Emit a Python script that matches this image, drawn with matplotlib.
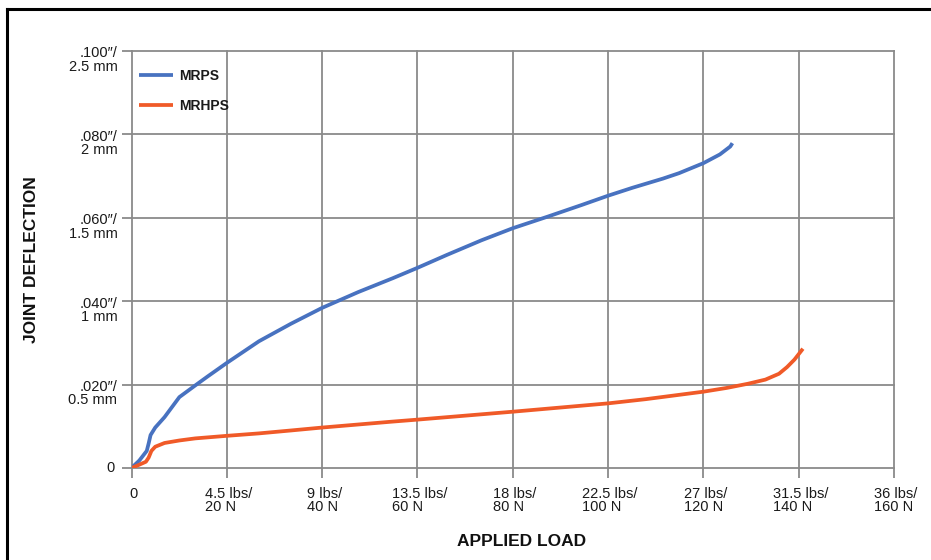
import matplotlib
matplotlib.use("Agg")
import matplotlib.pyplot as plt
from matplotlib.lines import Line2D

plt.rcParams['font.family'] = ['Liberation Sans', 'DejaVu Sans']

# Data
x_ticks = [0, 4.5, 9, 13.5, 18, 22.5, 27, 31.5, 36]
x_tick_labels = ["0", "4.5 lbs/\n20 N", "9 lbs/\n40 N", "13.5 lbs/\n60 N", "18 lbs/\n80 N",
                 "22.5 lbs/\n100 N", "27 lbs/\n120 N", "31.5 lbs/\n140 N", "36 lbs/\n160 N"]
y_ticks = [0, 0.02, 0.04, 0.06, 0.08, 0.10]
y_tick_labels = ["0", ".020\u2033/\n0.5 mm", ".040\u2033/\n1 mm", ".060\u2033/\n1.5 mm",
                 ".080\u2033/\n2 mm", ".100\u2033/\n2.5 mm"]

mrps_load = [0, 0.37, 0.72, 0.81, 0.90, 1.12, 1.56, 2.26, 3.01, 3.58, 4.5, 6.02, 7.53, 9.0,
             10.71, 12.33, 13.5, 14.89, 16.52, 18.0, 19.66, 21.27, 22.5, 23.65, 25.09,
             25.85, 27.0, 27.78, 28.27, 28.37]
mrps_defl = [0, 0.0018, 0.0041, 0.0059, 0.0079, 0.0097, 0.0122, 0.0170, 0.0198, 0.0219,
             0.0252, 0.0304, 0.0346, 0.0384, 0.0422, 0.0455, 0.0480, 0.0511, 0.0546,
             0.0575, 0.0603, 0.0631, 0.0653, 0.0672, 0.0694, 0.0707, 0.0731, 0.0752,
             0.0771, 0.0779]

mrhps_load = [0, 0.37, 0.68, 0.81, 0.94, 1.12, 1.56, 2.26, 3.01, 4.46, 6.02, 7.53, 9.0,
              12.26, 13.5, 18.0, 22.5, 24.27, 27.0, 28.1, 29.1, 29.93, 30.57, 30.95,
              31.3, 31.7]
mrhps_defl = [0, 0.0008, 0.0015, 0.0025, 0.0041, 0.0051, 0.0060, 0.0066, 0.0071, 0.0077,
              0.0083, 0.0090, 0.0097, 0.0111, 0.0116, 0.0135, 0.0155, 0.0165, 0.0183,
              0.0192, 0.0202, 0.0212, 0.0226, 0.0242, 0.0260, 0.0286]

W, H = 931, 560
fig = plt.figure(figsize=(W / 100, H / 100), dpi=100)
ax = fig.add_axes([131.5 / W, 1 - 468 / H, (894 - 131.5) / W, (468 - 51) / H])

blue = "#4872c0"
orange = "#f05a28"
grid_c = "#8a8a8a"

ax.plot(mrps_load, mrps_defl, color=blue, lw=2.7, label="MRPS", solid_capstyle='butt',
        solid_joinstyle='round', zorder=3)
ax.plot(mrhps_load, mrhps_defl, color=orange, lw=2.7, label="MRHPS", solid_capstyle='butt',
        solid_joinstyle='round', zorder=3)

ax.set_xlim(0, 36)
ax.set_ylim(0, 0.10)
ax.set_xticks(x_ticks)
ax.set_yticks(y_ticks)
ax.set_xticklabels([""] * len(x_ticks))
ax.set_yticklabels([""] * len(y_ticks))
ax.grid(True, color=grid_c, lw=1.3)
for gl in ax.get_xgridlines() + ax.get_ygridlines():
    gl.set_clip_on(False)
ax.tick_params(axis='both', length=7, width=1.3, color=grid_c)
for s in ax.spines.values():
    s.set_visible(False)

tfs = 10.5
xt = ax.get_xaxis_transform()
for v, lab in zip(x_ticks, x_tick_labels):
    ax.text(v + 0.1, -0.045, lab, transform=xt, ha='center', va='top', multialignment='left',
            fontsize=tfs, color='#1a1a1a', linespacing=0.95)
yt = ax.get_yaxis_transform()
for v, lab in zip(y_ticks, y_tick_labels):
    if v == 0:
        ax.text(-0.022, v, lab, transform=yt, ha='right', va='center', fontsize=tfs,
                color='#1a1a1a')
    else:
        ax.text(-0.0185, v + 0.0011, lab, transform=yt, ha='right', va='top', fontsize=tfs,
                color='#1a1a1a', multialignment='right', linespacing=0.95)

fig.text(522 / W, 1 - 541 / H, "APPLIED LOAD", ha='center', va='center', fontsize=12.5,
         fontweight='bold', color='#111111')
fig.text(32 / W, 1 - 260 / H, "JOINT DEFLECTION", ha='center', va='center', fontsize=12.5,
         fontweight='bold', rotation=90, color='#111111')

leg = ax.legend(loc='upper left', bbox_to_anchor=(-0.006, 0.986), frameon=False,
                handlelength=2.4, handletextpad=0.45, labelspacing=1.1,
                prop={'weight': 'bold', 'size': 10})
for t in leg.get_texts():
    t.set_color('#1a1a1a')

# outer frame (left and top edges visible)
fig.add_artist(Line2D([7 / W, 7 / W], [-0.05, 1 - 9 / H], transform=fig.transFigure,
                      color='black', lw=2.2))
fig.add_artist(Line2D([7 / W, 1.05], [1 - 9 / H, 1 - 9 / H], transform=fig.transFigure,
                      color='black', lw=2.2))

fig.savefig("out.png", dpi=100)
